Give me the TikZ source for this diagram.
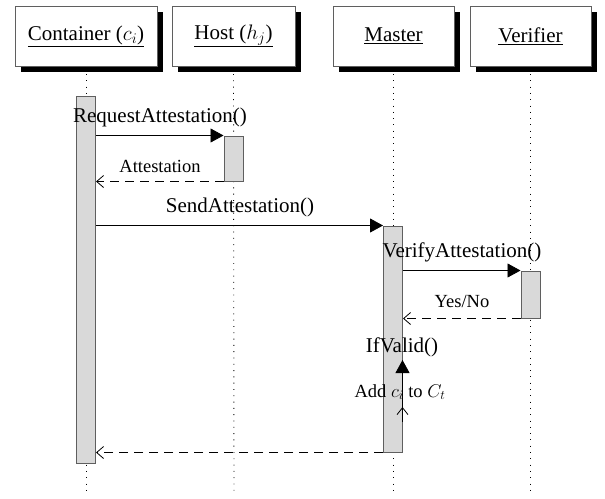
\documentclass[tikz,border=0pt]{standalone}
\usepackage{fix-cm}
\usepackage{fontspec}
\setmainfont{Liberation Serif}
\usetikzlibrary{arrows.meta,shadows,backgrounds}
\definecolor{barfill}{RGB}{217,217,217}
\definecolor{bardraw}{RGB}{95,95,95}
\begin{document}
\begin{tikzpicture}[x=1pt,y=-1pt,
  every node/.style={font=\fontsize{21}{25}\selectfont, inner sep=0pt},
  header/.style={draw=bardraw, fill=white, line width=0.9pt, minimum height=60pt,
    drop shadow={shadow xshift=6pt, shadow yshift=-6pt, fill=black, opacity=1}},
  actbar/.style={draw=bardraw, fill=barfill, line width=1pt, minimum width=19pt},
  lifeline/.style={line width=0.9pt, dash pattern=on 0.9pt off 5.4pt},
  callarrow/.style={line width=0.8pt, -{Triangle[length=13pt,width=14pt]}},
  retarrow/.style={line width=0.8pt, dash pattern=on 9pt off 6pt, -{Straight Barb[length=7pt,width=12pt,line width=0.8pt]}},
  openup/.style={line width=0.8pt, -{Straight Barb[length=7pt,width=11pt,line width=0.8pt]}},
  small/.style={font=\fontsize{18.5}{22}\selectfont}
]
\useasboundingbox (0,0) rectangle (605,498);

% header boxes
\node[header, minimum width=142pt] (cn) at (86,36) {\raisebox{2pt}{\underline{Container ($c_i$)}}};
\node[header, minimum width=123pt] (hn) at (233.5,36) {\raisebox{2pt}{\underline{Host ($h_j$)}}};
\node[header, minimum width=121pt] (mn) at (393.5,36) {\raisebox{2pt}{\underline{Master}}};
\node[header, minimum width=121pt] (vn) at (530.5,36) {\raisebox{2pt}{\underline{Verifier}}};

% lifeline ends
\coordinate (ce) at (86,495);
\coordinate (he) at (234,495);
\coordinate (me) at (393.5,495);
\coordinate (ve) at (530.5,495);

\begin{scope}[on background layer]
  \fill[white] (0,0) rectangle (605,498);
  \draw[lifeline] (cn.south |- 0,74) -- (ce);
  \draw[lifeline] (hn.south |- 0,74) -- (he);
  \draw[lifeline] (mn.south |- 0,74) -- (me);
  \draw[lifeline] (vn.south |- 0,74) -- (ve);
\end{scope}

% activation bars
\node[actbar, minimum height=367pt] (cb) at (86,279.5) {};
\node[actbar, minimum height=45pt] (hb) at (233.5,158.5) {};
\node[actbar, minimum height=226pt] (mb) at (393,339) {};
\node[actbar, minimum height=47pt] (vb) at (530.5,294.5) {};

% messages
\draw[callarrow] (cb.east |- hb.north west) -- (hb.north west);
\node[anchor=base] (l1) at (160,122) {RequestAttestation()};

\draw[retarrow] (hb.south west) -- (cb.east |- hb.south west);
\node[small, anchor=base] (l2) at (160,172) {Attestation};

\draw[callarrow] (cb.east |- mb.north west) -- (mb.north west);
\node[anchor=base] (l3) at (240,212) {SendAttestation()};

\draw[callarrow] (mb.east |- vb.north west) -- (vb.north west);
\node[anchor=base] (l4) at (462,257) {VerifyAttestation()};

\draw[retarrow] (vb.south west) -- (mb.east |- vb.south west);
\node[small, anchor=base] (l5) at (462,307) {Yes/No};

% self call
\coordinate (s0) at (402.5,413);
\coordinate (s1) at (402.5,360);
\coordinate (s2) at (402.5,422);
\coordinate (s3) at (402.5,407);
\draw[callarrow] (s0) -- (s1);
\draw[openup] (s2) -- (s3);
\node[anchor=base] (l6) at (402,352) {IfValid()};
\node[small, anchor=base] (l7) at (400,397) {Add $c_i$ to $C_t$};

\draw[retarrow] (mb.south west) -- (cb.east |- mb.south west);
\end{tikzpicture}
\end{document}
